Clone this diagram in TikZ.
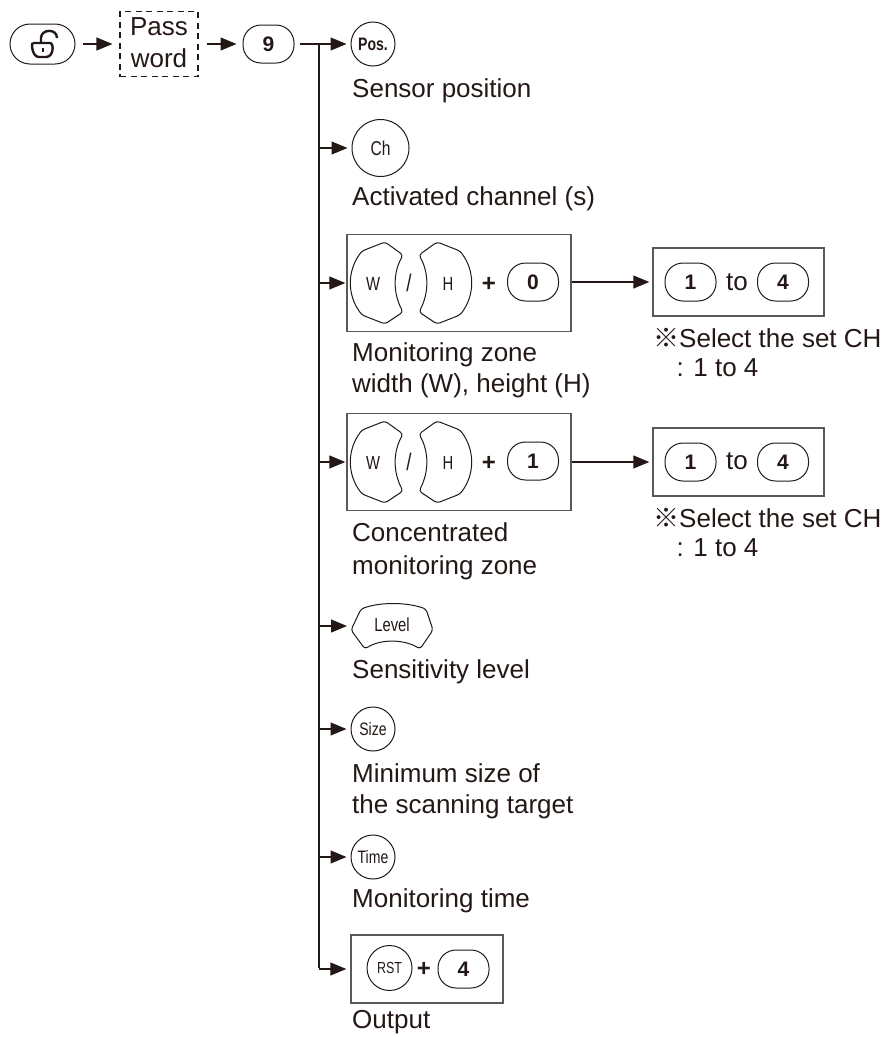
\documentclass[tikz,border=0pt]{standalone}
\usepackage{fontspec}
\setmainfont{Liberation Sans}
\newfontfamily\keyfont[FakeStretch=0.78]{Liberation Sans}
\newfontfamily\markfont{Noto Sans CJK JP}
\usetikzlibrary{arrows.meta, positioning}

\definecolor{ink}{HTML}{231815}

\tikzset{
	wkey/.pic={
		\draw[keyline, rounded corners=3pt] (8,-41) -- (26,-28) .. controls (16,-10) and (16,10) .. (26,29)
			-- (8,41) -- (-15,32) .. controls (-30,12) and (-30,-12) .. (-15,-32) -- cycle;
	},
	levelkey/.pic={
		\draw[keyline, rounded corners=3pt] (-31,-17) .. controls (-12,-24) and (14,-24) .. (34,-17) -- (41,4) -- (28,23)
			.. controls (12,13) and (-12,13) .. (-27,23) -- (-41,4) -- cycle;
	},
	lockicon/.pic={
		\draw[line width=2.4pt, ink] (-10,-1) -- (7,-1) .. controls (11,-1) and (11,13) .. (3,13)
			-- (-4,13) .. controls (-11,13) and (-12,-1) .. (-10,-1);
		\draw[line width=2.4pt, ink] (-2,-1) -- (-2,-6) .. controls (-2,-15) and (14,-16) .. (14,-6);
		\fill[ink] (-1,4) rectangle (1,8);
	},
}

\begin{document}
\begin{tikzpicture}
		[
			x=1pt, y=-1pt,
			every node/.style={text=ink},
			keyline/.style={draw=ink, line width=1pt},
			pill/.style={keyline, rectangle, rounded corners=18pt, minimum width=51pt, minimum height=38pt, inner sep=0pt, font=\fontsize{21}{21}\selectfont\bfseries},
			smallkey/.style={keyline, circle, minimum size=44pt, inner sep=0pt, font=\keyfont\fontsize{18}{18}\selectfont},
			bigkey/.style={smallkey, minimum size=57pt, font=\keyfont\fontsize{20}{20}\selectfont},
			keytext/.style={inner sep=0pt, font=\keyfont\fontsize{19}{19}\selectfont},
			plain/.style={inner sep=0pt, font=\fontsize{26}{26}\selectfont},
			plus/.style={inner sep=0pt, font=\fontsize{24}{24}\selectfont\bfseries},
			framebox/.style={draw=black!65, line width=1.4pt, rectangle, inner sep=0pt},
			caption/.style={anchor=base west, inner sep=0pt, font=\fontsize{26}{26}\selectfont},
			flow/.style={draw=ink, line width=1.1pt, -{Triangle[length=16pt, width=13pt]}},
		]

		% Boxes behind the keys
		\foreach \name/\x/\y/\w/\h in
		{
			zonebox/459/283/224/97,
			concbox/459/462/224/97,
			zonerange/738.5/282/171/68,
			concrange/738.5/462/171/68,
			outbox/427/969/152/68
		}
			\node[framebox, minimum width=\w pt, minimum height=\h pt] (\name) at (\x,\y) {};
		\node[draw=ink, dash pattern=on 6pt off 4.5pt, line width=1.1pt, minimum width=78pt, minimum height=65pt, inner sep=0pt] (pass) at (159,44) {};

		% Keys
		\foreach \style/\name/\x/\y/\txt in
		{
			pill/nine/268.5/44/9,
			pill/zonezero/533/282/0,
			pill/concone/533/461/1,
			pill/zonefrom/690.5/282/1,
			pill/zoneto/783/282/4,
			pill/concfrom/690.5/462/1,
			pill/concto/783/462/4,
			pill/outfour/463.5/969/4,
			smallkey/size/373/729/Size,
			smallkey/time/373/857/Time,
			bigkey/ch/380.5/148/Ch
		}
			\node[\style] (\name) at (\x,\y) {\txt};
		\node[pill, minimum width=65pt, minimum height=40pt, rounded corners=20pt] (unlock) at (42.5,44) {};
		\node[smallkey, font=\keyfont\fontsize{18}{18}\selectfont\bfseries] (pos) at (373,44) {Pos.};
		\node[smallkey, minimum size=45pt, font=\keyfont\fontsize{16}{16}\selectfont] (rst) at (389.5,968) {RST};
		\pic at (43,44) {lockicon};

		% Shaped keys
		\foreach \y/\pre in {283/zone, 462/conc}
		{
			\pic at (377,\y) {wkey};
			\pic[xscale=-1] at (445,\y) {wkey};
			\node[keytext] (\pre w) at (373,\y+1) {W};
			\node[keytext] (\pre h) at (448,\y+1) {H};
			\node[keytext, font=\keyfont\fontsize{24}{24}\selectfont] (\pre slash) at (409,\y) {/};
			\node[plus] (\pre plus) at (489,\y+1) {+};
		}
		\pic at (392,626) {levelkey};
		\node[keytext] (level) at (392,625) {Level};
		\coordinate (levelin) at (351,626);
		\node[plus] (outplus) at (424,969) {+};
		\node[plain] (zoneword) at (737,282) {to};
		\node[plain] (concword) at (737,461) {to};

		% Texts
		\node[plain, align=center, font=\fontsize{26}{32}\selectfont] (password) at (159,43) {Pass\\word};
		\foreach \name/\x/\y/\txt in
		{
			possub/352/97/{Sensor position},
			chsub/352/205/{Activated channel (s)},
			zonesuba/352/361/{Monitoring zone},
			zonesubb/352/392/{width (W), height (H)},
			concsuba/352/541/{Concentrated},
			concsubb/352/574/{monitoring zone},
			levelsub/352/678/{Sensitivity level},
			sizesuba/352/782/{Minimum size of},
			sizesubb/352/813/{the scanning target},
			timesub/352/907/{Monitoring time},
			outsub/352/1028/{Output},
			zonenotea/653/347/{{\markfont ※}Select the set CH},
			zonenoteb/672/376/{\,: 1 to 4},
			concnotea/653/527/{{\markfont ※}Select the set CH},
			concnoteb/672/556/{\,: 1 to 4}
		}
			\node[caption] (\name) at (\x,\y) {\txt};

		% Edges
		\coordinate (trunktop) at (319,44);
		\coordinate (trunkend) at (319,968);
		\draw[flow, shorten <=7pt, shorten >=7pt] (unlock) -- (pass);
		\draw[flow, shorten <=8pt, shorten >=6pt] (pass) -- (nine);
		\draw[draw=ink, line width=1.1pt, shorten <=5pt] (nine) -- (trunktop);
		\draw[draw=ink, line width=1.1pt] (trunktop) -- (trunkend);
		\foreach \v/\s in
		{
			pos/4,
			ch/4,
			zonebox/1,
			concbox/1,
			levelin/4,
			size/4,
			time/4,
			outbox/4}
			\draw[flow, shorten >=\s pt] (trunktop |- \v) -- (\v);
		\draw[flow, shorten >=3pt] (zonebox.east |- zonerange) -- (zonerange);
		\draw[flow, shorten >=3pt] (concbox.east |- concrange) -- (concrange);

		\useasboundingbox (0,0) rectangle (886,1037);
		\end{tikzpicture}
\end{document}
